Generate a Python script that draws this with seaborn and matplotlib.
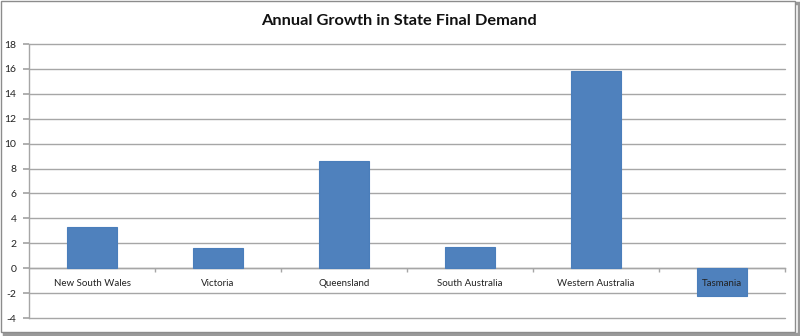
import matplotlib
matplotlib.use("Agg")
import matplotlib.pyplot as plt
import seaborn as sns
import pandas as pd
from matplotlib.patches import Rectangle

states = ["New South Wales", "Victoria", "Queensland", "South Australia",
          "Western Australia", "Tasmania"]
growth = [3.3, 1.6, 8.6, 1.7, 15.8, -2.2]
yticks = list(range(-4, 19, 2))
title = "Annual Growth in State Final Demand"

sns.set_theme(style="white")
plt.rcParams['font.family'] = ['Lato', 'DejaVu Sans']

df = pd.DataFrame({"state": states, "growth": growth})

fig = plt.figure(figsize=(8, 3.36), dpi=100)
ax = fig.add_axes([29/800, 1-318/336, 756/800, 274/336])
ax.set_zorder(1)

sns.barplot(data=df, x="state", y="growth", color="#4F81BD", width=0.4,
            edgecolor="#4A7EBB", linewidth=0.8, saturation=1, ax=ax)

ax.set_ylim(-4, 18)
ax.set_xlim(-0.5, len(states) - 0.5)
ax.set_yticks(yticks)
ax.set_yticklabels([str(v) for v in yticks], fontsize=7.5, color="#222222")
ax.set_xlabel("")
ax.set_ylabel("")

ax.yaxis.grid(True, color="#a6a6a6", linewidth=1.0)
ax.xaxis.grid(False)
ax.yaxis.set_zorder(0.5)
ax.xaxis.set_zorder(3)
for gl in ax.yaxis.get_gridlines():
    gl.set_clip_on(False)

for s in ["top", "right"]:
    ax.spines[s].set_visible(False)
ax.spines["left"].set_color("#a6a6a6")
ax.spines["left"].set_linewidth(1.0)
ax.spines["bottom"].set_position(("data", 0))
ax.spines["bottom"].set_color("#a6a6a6")
ax.spines["bottom"].set_linewidth(1.0)
ax.spines["bottom"].set_zorder(0.6)

ax.tick_params(axis="y", which="major", left=True, length=4, color="#a6a6a6",
               pad=5)
ax.tick_params(axis="x", which="major", bottom=False, length=0, pad=8,
               labelsize=7, labelcolor="#222222")
ax.set_xticks([i + 0.5 for i in range(len(states))], minor=True)
ax.tick_params(axis="x", which="minor", bottom=True, length=3, color="#a6a6a6")

ax.set_title(title, fontsize=11.8, fontweight="bold", color="#111111",
             x=0.49, y=1.0, pad=14)

# chart frame with shadow
fig.patches.append(Rectangle((4/800, 2/336), 795/800, 331/336,
                             transform=fig.transFigure, fill=False,
                             edgecolor="#999999", linewidth=2.5, zorder=-2))
fig.patches.append(Rectangle((1/800, 4/336), 794/800, 331/336,
                             transform=fig.transFigure, facecolor="white",
                             edgecolor="#8c8c8c", linewidth=1.0, zorder=-1))

fig.savefig("out.png", dpi=100)
